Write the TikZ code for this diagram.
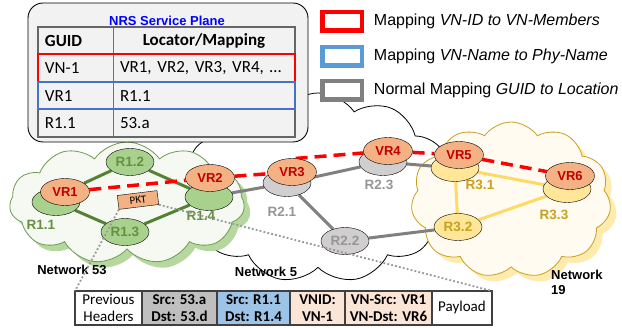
\documentclass[tikz,border=0pt]{standalone}
\usepackage{fontspec}
\setmainfont{Liberation Sans}
\newfontfamily\calibri{Carlito}
\usetikzlibrary{shapes.geometric,shapes.symbols,positioning}

\definecolor{vrfill}{RGB}{244,177,131}
\definecolor{vrtext}{RGB}{192,0,0}
\definecolor{grnfill}{RGB}{169,209,142}
\definecolor{grnline}{RGB}{84,130,53}
\definecolor{grntext}{RGB}{100,145,65}
\definecolor{gryfill}{RGB}{208,206,206}
\definecolor{gryline}{RGB}{128,128,128}
\definecolor{grytext}{RGB}{150,150,150}
\definecolor{ylwfill}{RGB}{255,230,153}
\definecolor{ylwline}{RGB}{255,217,102}
\definecolor{ylwtext}{RGB}{200,160,30}
\definecolor{planefill}{RGB}{242,242,242}
\definecolor{mapblue}{RGB}{91,155,213}
\definecolor{tblblue}{RGB}{68,114,196}
\definecolor{hdrgray}{RGB}{191,191,191}
\definecolor{hdrblue}{RGB}{157,195,230}
\definecolor{hdrpeach}{RGB}{251,229,214}

\pgfdeclarelayer{clouds}
\pgfdeclarelayer{links}
\pgfsetlayers{clouds,links,main}

\tikzset{
  cloudy/.style={cloud, cloud puffs=11, cloud puff arc=110, cloud ignores aspect, inner sep=0pt, line width=0.8pt},
  vr/.style={ellipse, draw, fill=vrfill, minimum width=49pt, minimum height=27pt, inner sep=0pt,
    font=\bfseries\fontsize{13}{13}\selectfont, text=vrtext},
  phy/.style={ellipse, draw, minimum width=48pt, minimum height=27pt, inner sep=0pt,
    font=\bfseries\fontsize{13.5}{13.5}\selectfont},
  net53r/.style={phy, fill=grnfill, text=grntext},
  net5r/.style={phy, fill=gryfill, text=grytext},
  net19r/.style={phy, fill=ylwfill, text=ylwtext},
  rlabel/.style={font=\bfseries\fontsize{13.5}{13.5}\selectfont, inner sep=0pt},
  net53link/.style={line width=3pt, draw=grnline},
  net5link/.style={line width=3pt, draw=gryline},
  net19link/.style={line width=3pt, draw=ylwline},
  vnlink/.style={line width=3.5pt, draw=red, dash pattern=on 12pt off 7pt},
  pktlink/.style={line width=1.8pt, draw=gray!80, dash pattern=on 1.8pt off 2.2pt},
  tcell/.style={draw=black!55, fill=planefill, minimum height=27.5pt, inner xsep=7pt, inner ysep=0pt,
    outer sep=0pt, align=left, font=\calibri\fontsize{17}{17}\selectfont},
  gcell/.style={tcell, text width=61pt},
  mcell/.style={tcell, text width=168pt},
  key/.style={draw, fill=white, line width=4.5pt, minimum width=39.5pt, minimum height=18.5pt,
    inner sep=0pt, outer sep=0pt},
  keytext/.style={font=\fontsize{16}{16}\selectfont, inner sep=0pt, anchor=west},
  pkt/.style={draw=black!75, line width=1.2pt, minimum height=34pt, inner sep=0pt, outer sep=0pt,
    align=center, font=\calibri\fontsize{15}{17}\selectfont},
  netlabel/.style={font=\bfseries\fontsize{13}{15}\selectfont, inner sep=0pt}
}

\begin{document}
\begin{tikzpicture}[x=1pt, y=-1pt]
\useasboundingbox (0,0) rectangle (622,328);

% networks
\begin{pgfonlayer}{clouds}
\node[cloudy, draw=black, fill=white, minimum width=270pt, minimum height=190pt] (net5) at (318,188) {};
\node[cloudy, fill=grnfill!85, minimum width=235pt, minimum height=122pt] (net53sh) at (133,209) {};
\node[cloudy, draw=grnline!70!grnfill, fill=grnfill!12, minimum width=235pt, minimum height=122pt] (net53) at (127,203) {};
\node[cloudy, fill=ylwfill!80, minimum width=200pt, minimum height=156pt] (net19sh) at (517,206) {};
\node[cloudy, draw=ylwtext, fill=ylwfill!15, minimum width=200pt, minimum height=156pt] (net19) at (511,200) {};
\end{pgfonlayer}

% NRS service plane
\node[draw, fill=planefill, rounded corners=15pt, minimum width=280pt, minimum height=139pt, line width=0.9pt] (plane) at (168,72.5) {};
\node[font=\bfseries\fontsize{13}{13}\selectfont, text=blue, inner sep=0pt] (planetitle) at (167,21) {NRS Service Plane};

\node[gcell, font=\calibri\bfseries\fontsize{17}{17}\selectfont] (guidhd) at (75.5,40.75) {GUID};
\node[mcell, align=center, font=\calibri\bfseries\fontsize{17}{17}\selectfont] (maphd) at (204,40.75) {Locator/Mapping};
\node[gcell] (vn1id) at (75.5,68.25) {VN-1};
\node[mcell] (vn1map) at (204,68.25) {VR1, VR2, VR3, VR4, …};
\node[gcell] (vr1id) at (75.5,95.75) {VR1};
\node[mcell] (vr1map) at (204,95.75) {R1.1};
\node[gcell] (r11id) at (75.5,123.25) {R1.1};
\node[mcell] (r11map) at (204,123.25) {53.a};
\draw[line width=2pt, draw=black!60] (guidhd.north west) rectangle (r11map.south east);
\draw[line width=2pt, red] (vn1id.north west) rectangle (vn1map.south east);
\draw[line width=2pt, tblblue] (vr1id.north west) rectangle (vr1map.south east);

% legend
\node[key, draw=red] (keyvn) at (342,21.5) {};
\node[key, draw=mapblue] (keyname) at (342,56.5) {};
\node[key, draw=gray] (keyguid) at (342,90.5) {};
\node[keytext, right=12pt of keyvn] (keyvntext) {Mapping \textit{VN-ID to VN-Members}};
\node[keytext, right=12pt of keyname] (keynametext) {Mapping \textit{VN-Name to Phy-Name}};
\node[keytext, right=12pt of keyguid] (keyguidtext) {Normal Mapping \textit{GUID to Location}};

% routers
\node[net53r] (r11) at (56,202) {};
\node[vr] (vr1) at (65,192) {VR1};
\node[net53r] (r12) at (130,162) {R1.2};
\node[net53r] (r13) at (125,232) {R1.3};
\node[net53r] (r14) at (209,197) {};
\node[vr] (vr2) at (210,178) {VR2};

\node[net5r] (r21) at (287,183) {};
\node[vr] (vr3) at (292,172) {VR3};
\node[net5r] (r22) at (345,241) {R2.2};
\node[net5r] (r23) at (383,162) {};
\node[vr] (vr4) at (388,151) {VR4};

\node[net19r] (r31) at (455,168) {};
\node[vr] (vr5) at (459,155) {VR5};
\node[net19r] (r32) at (458,227) {R3.2};
\node[net19r] (r33) at (567,189) {};
\node[vr] (vr6) at (570,176) {VR6};

\node[rlabel, text=grntext] (lr11) at (41,225) {R1.1};
\node[rlabel, text=grntext] (lr14) at (201,216) {R1.4};
\node[rlabel, text=grytext] (lr21) at (282,212) {R2.1};
\node[rlabel, text=grytext] (lr23) at (379,185) {R2.3};
\node[rlabel, text=ylwtext] (lr31) at (480,185) {R3.1};
\node[rlabel, text=ylwtext] (lr33) at (554,215) {R3.3};

% links
\begin{pgfonlayer}{links}
\draw[net53link] (vr1) -- (r12);
\draw[net53link] (r12) -- (r14);
\draw[net53link] (r11) -- (r13);
\draw[net53link] (r13) -- (r14);
\draw[net5link] (r14) -- (r21);
\draw[net5link] (r21) -- (r23);
\draw[net5link] (r23) -- (r31);
\draw[net5link] (r21) -- (r22);
\draw[net5link] (r22) -- (r32);
\draw[net19link] (r31) -- (r33);
\draw[net19link] (r31) -- (r32);
\draw[net19link] (r32) -- (r33);
\draw[vnlink] (vr1) -- (vr2) -- (vr3);
\draw[vnlink] (vr3.75) -- (vr4) -- (vr5) -- (vr6);
\end{pgfonlayer}

\node[netlabel] (lbl53) at (72,270) {Network 53};
\node[netlabel] (lbl5) at (266,272) {Network 5};
\node[netlabel, align=left, anchor=north west] (lbl19) at (551,270) {Network\\19};

% packet
\node[draw, fill=vrfill, rotate=7, minimum width=40pt, minimum height=14pt, inner sep=0pt,
  font=\calibri\fontsize{11}{11}\selectfont] (pkt) at (138,200) {PKT};

\node[pkt, minimum width=67pt] (prevhdr) at (108.5,308) {Previous\\Headers};
\node[pkt, fill=hdrgray, minimum width=75pt, right=0pt of prevhdr, font=\calibri\bfseries\fontsize{15}{17}\selectfont] (l2hdr) {Src: 53.a\\Dst: 53.d};
\node[pkt, fill=hdrblue, minimum width=73pt, right=0pt of l2hdr, font=\calibri\bfseries\fontsize{15}{17}\selectfont] (l3hdr) {Src: R1.1\\Dst: R1.4};
\node[pkt, fill=hdrpeach, minimum width=55pt, right=0pt of l3hdr, font=\calibri\bfseries\fontsize{15}{17}\selectfont] (vnidhdr) {VNID:\\VN-1};
\node[pkt, fill=hdrpeach, minimum width=87pt, right=0pt of vnidhdr, font=\calibri\bfseries\fontsize{15}{17}\selectfont] (vnhdr) {VN-Src: VR1\\VN-Dst: VR6};
\node[pkt, minimum width=60pt, right=0pt of vnhdr] (payload) {Payload};

\draw[pktlink] (pkt.south west) -- (prevhdr.north west);
\draw[pktlink] (pkt.south east) -- (payload.north east);
\end{tikzpicture}
\end{document}
